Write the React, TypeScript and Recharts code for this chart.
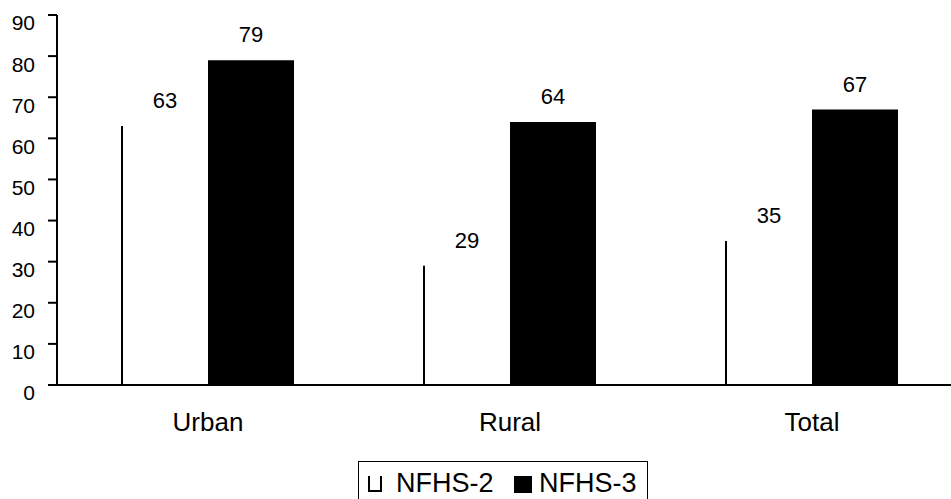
import React from 'react';
import { BarChart, Bar, XAxis, YAxis, Legend, LabelList } from 'recharts';

const categories = ['Urban', 'Rural', 'Total'];
const nfhs2Values = [63, 29, 35];
const nfhs3Values = [79, 64, 67];
const seriesNames = ['NFHS-2', 'NFHS-3'];
const yTicks = [0, 10, 20, 30, 40, 50, 60, 70, 80, 90];
const boundaryTicks = [0, 1, 2, 3];

const data = categories.map((c, i) => ({ name: c, nfhs2: nfhs2Values[i], nfhs3: nfhs3Values[i] }));

const FONT = '"Liberation Sans", Arial, Helvetica, sans-serif';

const OutlineBar = (props: any) => {
  const { x, y, width, height } = props;
  return (
    <g>
      <rect x={x} y={y} width={width} height={height} fill="#ffffff" />
      <line x1={x} y1={y} x2={x} y2={y + height} stroke="#000" strokeWidth={2} />
    </g>
  );
};

const LegendBox = () => (
  <div
    style={{
      boxSizing: 'border-box',
      width: '100%',
      height: '100%',
      border: '1.5px solid #000',
      borderBottom: 'none',
      position: 'relative',
      fontFamily: FONT,
      fontSize: 27,
      color: '#000',
    }}
  >
    <div
      style={{
        position: 'absolute', left: 9, top: 14, width: 14, height: 16,
        boxSizing: 'border-box', borderLeft: '2px solid #000', borderRight: '2px solid #000', borderBottom: '2px solid #000',
      }}
    />
    <span style={{ position: 'absolute', left: 37, top: 8, lineHeight: '27px', whiteSpace: 'nowrap' }}>{seriesNames[0]}</span>
    <div style={{ position: 'absolute', left: 155, top: 14, width: 18, height: 17, background: '#000' }} />
    <span style={{ position: 'absolute', left: 180, top: 8, lineHeight: '27px', whiteSpace: 'nowrap' }}>{seriesNames[1]}</span>
  </div>
);

export default function App() {
  return (
    <div style={{ position: 'absolute', left: 0, top: 0, width: 951, height: 499, overflow: 'hidden', background: '#fff' }}>
      <BarChart
        width={963}
        height={499}
        data={data}
        margin={{ top: 15, right: 0, left: 0, bottom: 54 }}
        barGap={0}
        style={{ fontFamily: FONT }}
      >
        <XAxis
          xAxisId="b"
          type="number"
          domain={[0, 3]}
          ticks={boundaryTicks}
          allowDataOverflow
          height={0}
          axisLine={false}
          tickLine={{ stroke: '#000', strokeWidth: 2 }}
          tickSize={9}
          tickMargin={0}
          tick={{ fontSize: 1, fill: 'none' }}
          tickFormatter={() => ''}
        />
        <XAxis
          xAxisId="cat"
          dataKey="name"
          height={60}
          axisLine={{ stroke: '#000', strokeWidth: 2 }}
          tickLine={false}
          tickSize={0}
          tickMargin={28}
          tick={{ fill: '#000', fontSize: 26, fontFamily: FONT }}
        />
        <YAxis
          width={57}
          domain={[0, 90]}
          ticks={yTicks}
          interval={0}
          axisLine={{ stroke: '#000', strokeWidth: 2 }}
          tickLine={{ stroke: '#000', strokeWidth: 2 }}
          tickSize={9}
          tickMargin={13}
          tick={{ fill: '#000', fontSize: 21, fontFamily: FONT, dy: 8 }}
        />
        <Legend
          layout="horizontal"
          verticalAlign="middle"
          align="center"
          wrapperStyle={{ position: 'absolute', left: 358, top: 461, width: 290, height: 45, bottom: 'auto' }}
          content={() => <LegendBox />}
        />
        <Bar xAxisId="cat" dataKey="nfhs2" name={seriesNames[0]} barSize={86} shape={<OutlineBar />} isAnimationActive={false}>
          <LabelList dataKey="nfhs2" position="top" offset={18} fill="#000" fontSize={22} fontFamily={FONT} />
        </Bar>
        <Bar xAxisId="cat" dataKey="nfhs3" name={seriesNames[1]} barSize={86} fill="#000" isAnimationActive={false}>
          <LabelList dataKey="nfhs3" position="top" offset={18} fill="#000" fontSize={22} fontFamily={FONT} />
        </Bar>
      </BarChart>
    </div>
  );
}
